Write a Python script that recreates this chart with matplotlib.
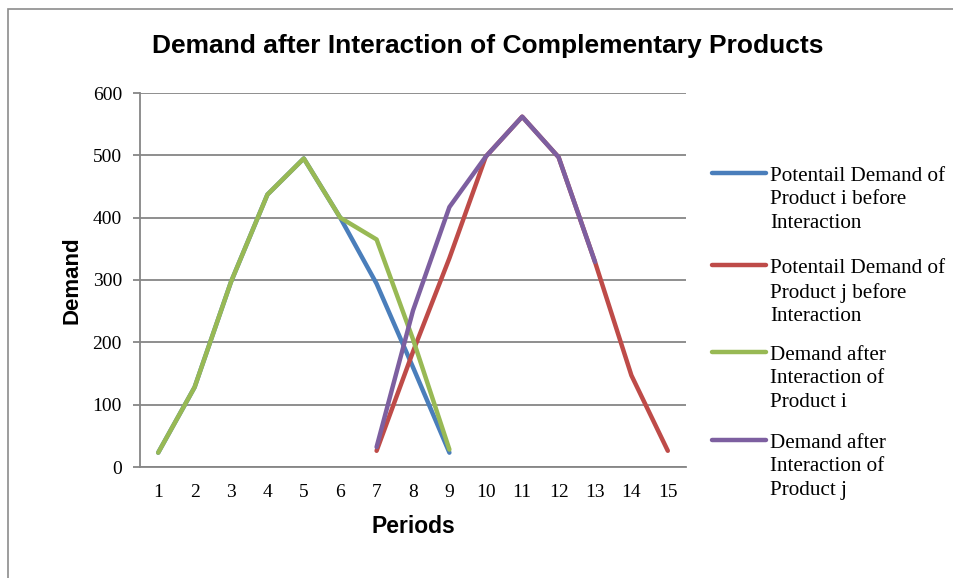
import matplotlib.pyplot as plt
from matplotlib.patches import Rectangle
from matplotlib.lines import Line2D

# demand per period
periods = list(range(1, 16))
i_before_x = [1, 2, 3, 4, 5, 6, 7, 8, 9]
i_before = [23, 128, 297, 437, 495, 400, 294, 160, 23]
j_before_x = [7, 8, 9, 10, 11, 12, 13, 14, 15]
j_before = [26, 185, 335, 498, 562, 497, 329, 147, 26]
i_after_x = [1, 2, 3, 4, 5, 6, 7, 8, 9]
i_after = [23, 128, 297, 437, 495, 400, 365, 205, 28]
j_after_x = [7, 8, 9, 10, 11, 12, 13]
j_after = [32, 251, 417, 498, 562, 497, 329]

labels = ['Potentail Demand of\nProduct i before\nInteraction',
          'Potentail Demand of\nProduct j before\nInteraction',
          'Demand after\nInteraction of\nProduct i',
          'Demand after\nInteraction of\nProduct j']
colors = ['#4a7ebb', '#be4b48', '#98b954', '#7d5fa0']

W, H = 954, 578
fig = plt.figure(figsize=(W / 100, H / 100), dpi=100)
ax = fig.add_axes([140/W, 1 - 467/H, 546/W, 374/H])

# outer chart frame
fig.patches.append(Rectangle((8/W, -0.1), 1.2, 1 - 9/H + 0.1, transform=fig.transFigure,
                             fill=False, edgecolor='#8c8c8c', linewidth=1.2))

series = [(i_before_x, i_before), (j_before_x, j_before),
          (i_after_x, i_after), (j_after_x, j_after)]
for (xs, ys), c, lab in zip(series, colors, labels):
    ax.plot(xs, ys, color=c, linewidth=3.2, solid_capstyle='round',
            solid_joinstyle='round', label=lab)

ax.set_xlim(0.5, 15.5)
ax.set_ylim(0, 600)
ax.set_yticks(range(0, 601, 100))
ax.set_xticks(periods)
ax.grid(axis='y', color='#868686', linewidth=1.3)
ax.set_axisbelow(True)
for s in ['top', 'right']:
    ax.spines[s].set_visible(False)
for s in ['left', 'bottom']:
    ax.spines[s].set_color('#868686')
    ax.spines[s].set_linewidth(1.3)
ax.tick_params(axis='y', length=5, width=1.3, color='#868686', pad=8)
ax.tick_params(axis='x', length=0, pad=12)
for t in ax.get_xticklabels() + ax.get_yticklabels():
    t.set_fontfamily('Liberation Serif')
    t.set_fontsize(14)

ax.set_xlabel('Periods', fontfamily='Liberation Sans', fontweight='bold', fontsize=16.5, labelpad=10)
ax.set_ylabel('Demand', fontfamily='Liberation Sans', fontweight='bold', fontsize=16, labelpad=7)
fig.text(488/W, 1 - 46/H, 'Demand after Interaction of Complementary Products',
         ha='center', va='center', fontfamily='Liberation Sans', fontweight='bold', fontsize=19)

# legend, Excel style: handle level with the first line of text
leg_top = [173, 265, 352, 440]
for c, lab, y in zip(colors, labels, leg_top):
    fig.add_artist(Line2D([712/W, 766/W], [1 - y/H, 1 - y/H], transform=fig.transFigure,
                          color=c, linewidth=3.2, solid_capstyle='round'))
    fig.text(770/W, 1 - (y - 6)/H, lab, ha='left', va='top', fontfamily='Liberation Serif',
             fontsize=15.2, linespacing=1.32)

fig.savefig('out.png', dpi=100)
